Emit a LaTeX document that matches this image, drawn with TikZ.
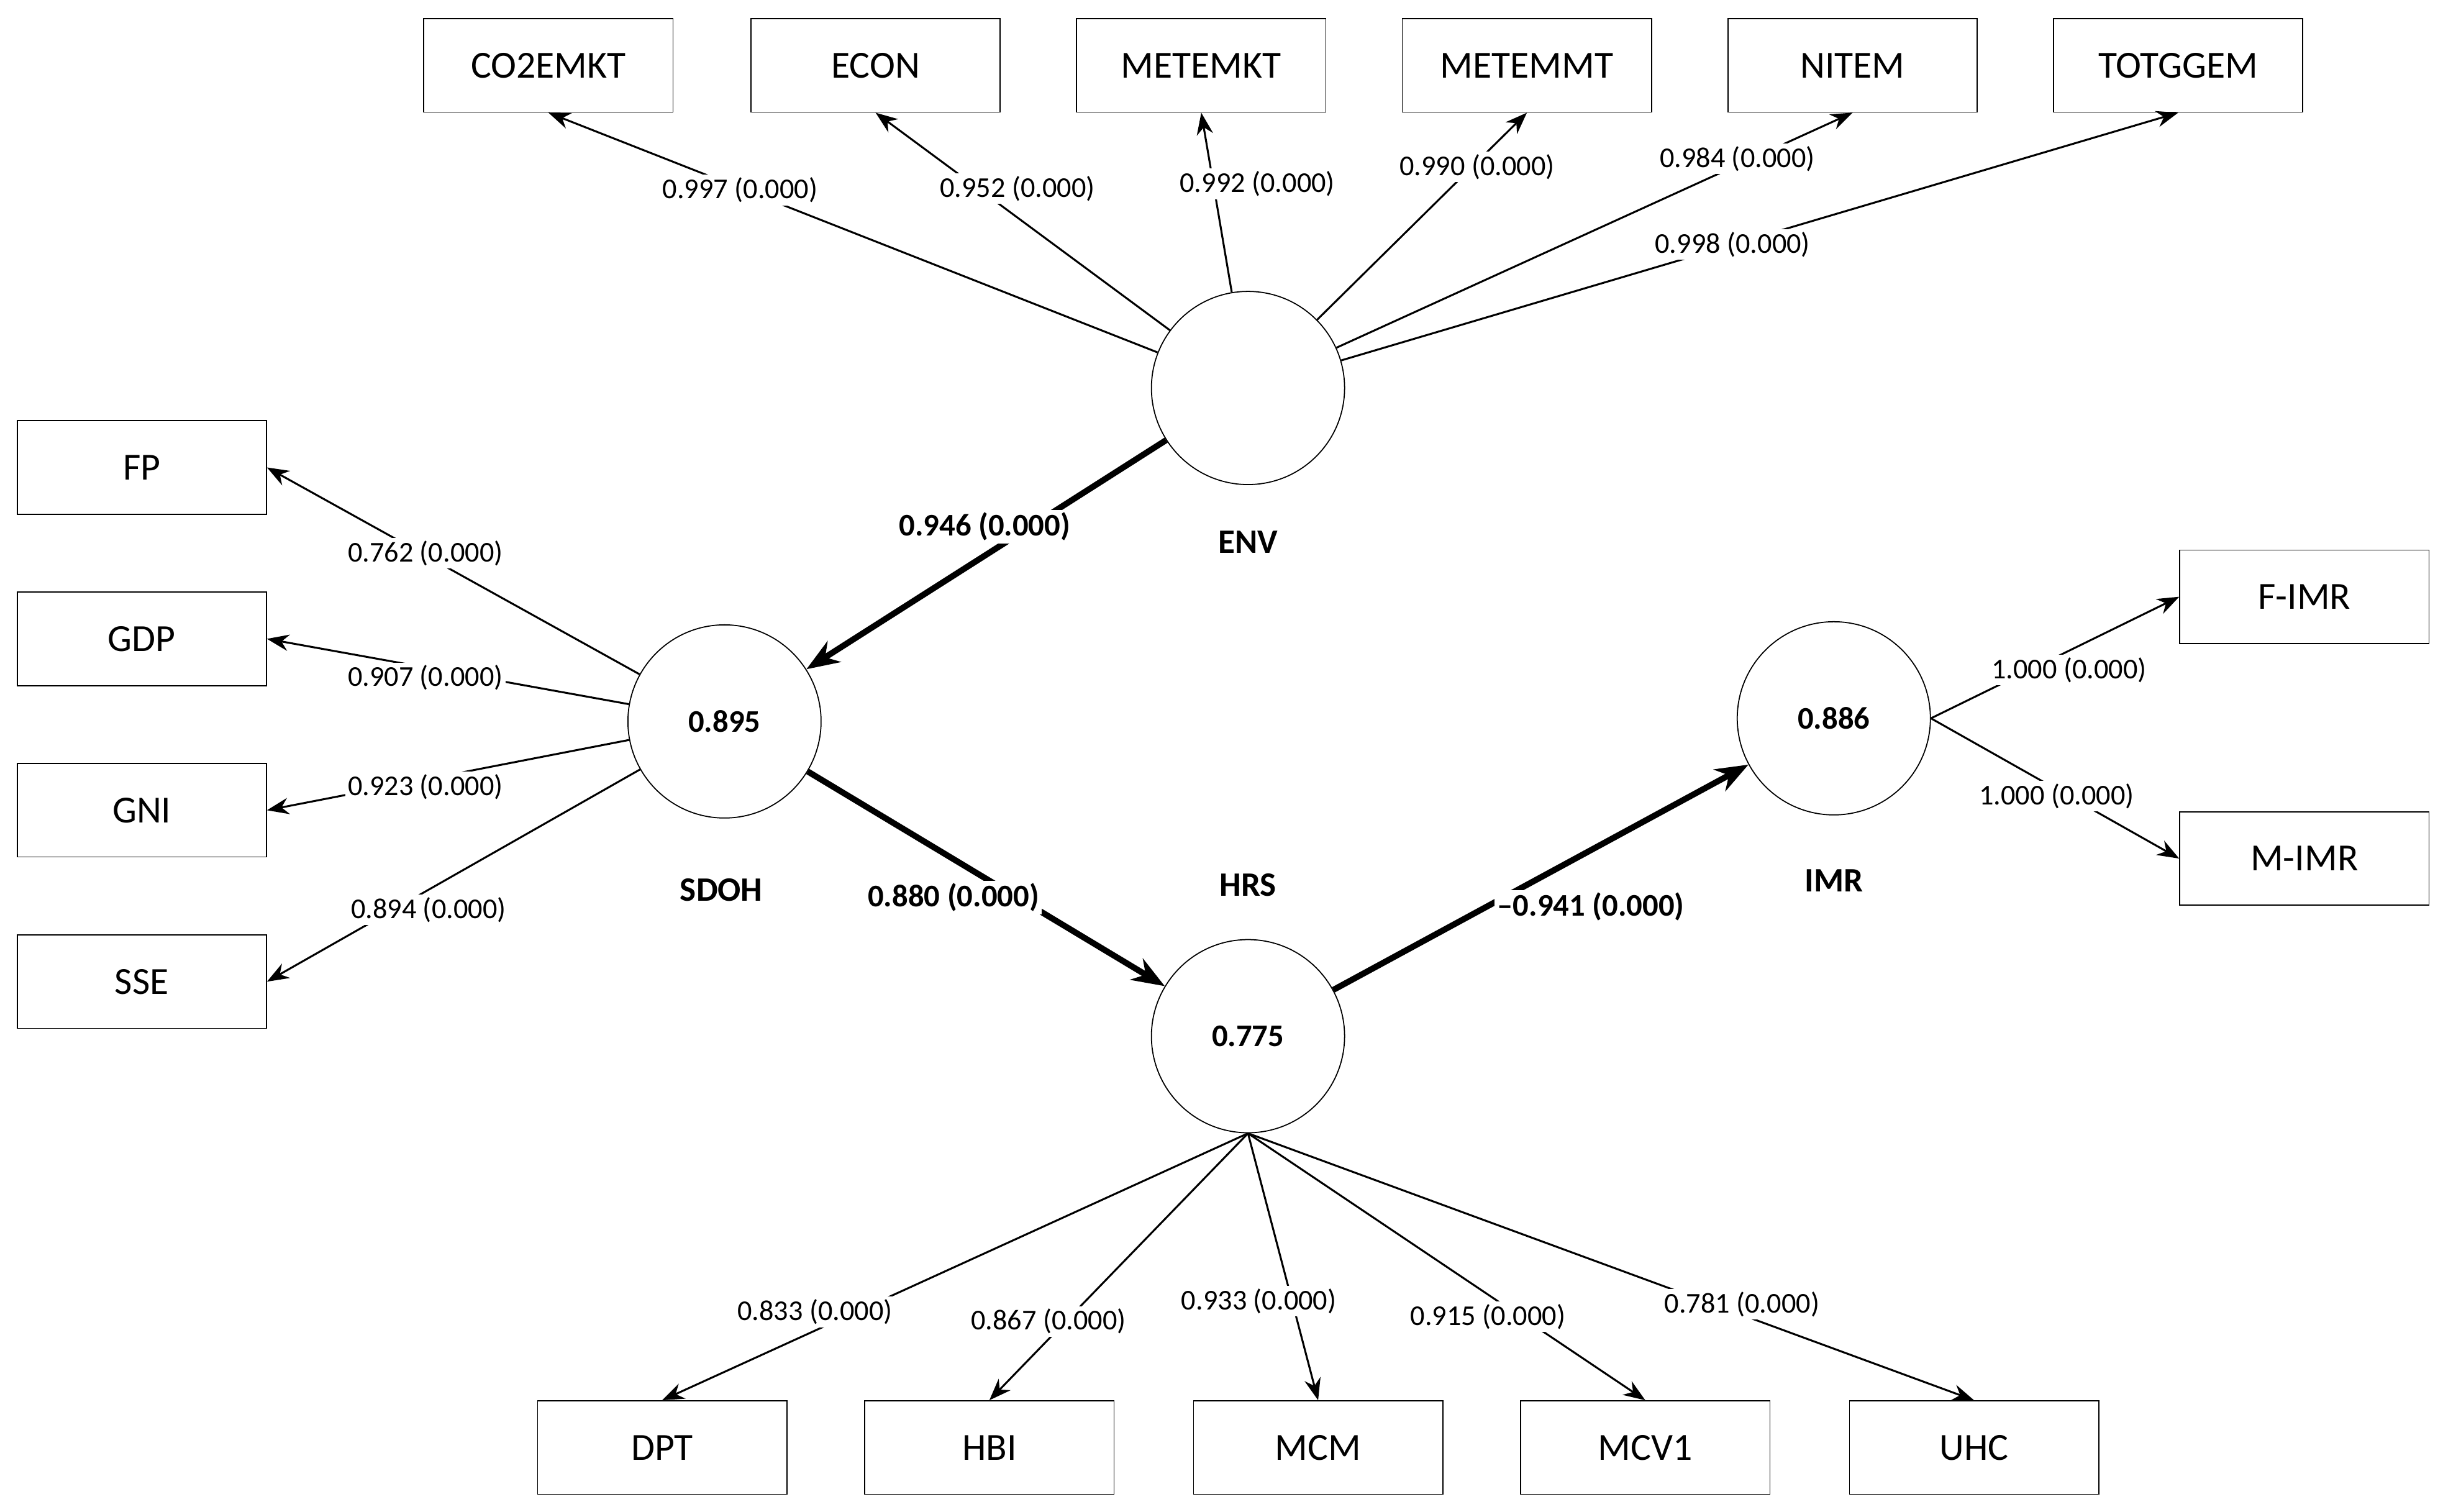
\documentclass[tikz,border=0pt]{standalone}
\usepackage{fontspec}
\setmainfont{Carlito}
\usetikzlibrary{arrows.meta}
\begin{document}
\begin{tikzpicture}[x=0.02cm,y=-0.02cm,
  ind/.style={draw,minimum width=3.2cm,minimum height=1.2cm,font=\fontsize{14}{16}\selectfont,inner sep=0},
  lat/.style={draw,circle,minimum size=2.48cm,inner sep=0,font=\bfseries\fontsize{11.5}{13}\selectfont},
  lab/.style={fill=white,inner sep=1pt,font=\fontsize{10.5}{12}\selectfont},
  blab/.style={fill=white,inner sep=1pt,font=\bfseries\fontsize{11.5}{13}\selectfont},
  lvname/.style={font=\bfseries\fontsize{12.5}{14}\selectfont},
  load/.style={-{Stealth[length=8pt,width=6pt]},line width=0.7pt},
  spath/.style={-{Stealth[length=12pt,width=9pt]},line width=2.2pt}]
\useasboundingbox (0,0) rectangle (1568,970);
% indicators
\node[ind] (CO2EMKT) at (352,42) {CO2EMKT};
\node[ind] (ECON) at (562,42) {ECON};
\node[ind] (METEMKT) at (771,42) {METEMKT};
\node[ind] (METEMMT) at (980,42) {METEMMT};
\node[ind] (NITEM) at (1189,42) {NITEM};
\node[ind] (TOTGGEM) at (1398,42) {TOTGGEM};
\node[ind] (FP) at (91,300) {FP};
\node[ind] (GDP) at (91,410) {GDP};
\node[ind] (GNI) at (91,520) {GNI};
\node[ind] (SSE) at (91,630) {SSE};
\node[ind] (FIMR) at (1479,383) {F-IMR};
\node[ind] (MIMR) at (1479,551) {M-IMR};
\node[ind] (DPT) at (425,929) {DPT};
\node[ind] (HBI) at (635,929) {HBI};
\node[ind] (MCM) at (846,929) {MCM};
\node[ind] (MCV1) at (1056,929) {MCV1};
\node[ind] (UHC) at (1267,929) {UHC};
% latent
\node[lat] (ENV) at (801,249) {};
\node[lat] (SDOH) at (465,463) {0.895};
\node[lat] (HRS) at (801,665) {0.775};
\node[lat] (IMR) at (1177,461) {0.886};
\node[lvname] (lENV) at (801,348) {ENV};
\node[lvname] (lSDOH) at (463,571) {SDOH};
\node[lvname] (lHRS) at (801,568) {HRS};
\node[lvname] (lIMR) at (1177,565) {IMR};
% ENV loadings
\draw[load] (ENV) -- (CO2EMKT.south);
\draw[load] (ENV) -- (ECON.south);
\draw[load] (ENV) -- (METEMKT.south);
\draw[load] (ENV) -- (METEMMT.south);
\draw[load] (ENV) -- (NITEM.south);
\draw[load] (ENV) -- (TOTGGEM.south);
\node[lab] (a1) at (475,122) {0.997 (0.000)};
\node[lab] (a2) at (653,121) {0.952 (0.000)};
\node[lab] (a3) at (807,118) {0.992 (0.000)};
\node[lab] (a4) at (948,107) {0.990 (0.000)};
\node[lab] (a5) at (1115,102) {0.984 (0.000)};
\node[lab] (a6) at (1112,157) {0.998 (0.000)};
% SDOH loadings
\draw[load] (SDOH) -- (FP.east);
\draw[load] (SDOH) -- (GDP.east);
\draw[load] (SDOH) -- (GNI.east);
\draw[load] (SDOH) -- (SSE.east);
\node[lab] (b1) at (273,355) {0.762 (0.000)};
\node[lab] (b2) at (273,435) {0.907 (0.000)};
\node[lab] (b3) at (273,505) {0.923 (0.000)};
\node[lab] (b4) at (275,584) {0.894 (0.000)};
% IMR loadings
\draw[load] (IMR.east) -- (FIMR.west);
\draw[load] (IMR.east) -- (MIMR.west);
\node[lab] (c1) at (1328,430) {1.000 (0.000)};
\node[lab] (c2) at (1320,511) {1.000 (0.000)};
% HRS loadings
\draw[load] (HRS.south) -- (DPT.north);
\draw[load] (HRS.south) -- (HBI.north);
\draw[load] (HRS.south) -- (MCM.north);
\draw[load] (HRS.south) -- (MCV1.north);
\draw[load] (HRS.south) -- (UHC.north);
\node[lab] (d1) at (523,842) {0.833 (0.000)};
\node[lab] (d2) at (673,848) {0.867 (0.000)};
\node[lab] (d3) at (808,835) {0.933 (0.000)};
\node[lab] (d4) at (955,845) {0.915 (0.000)};
\node[lab] (d5) at (1118,837) {0.781 (0.000)};
% structural paths
\draw[spath] (ENV) -- (SDOH);
\draw[spath] (SDOH) -- (HRS);
\draw[spath] (HRS) -- (IMR);
\node[blab] (p1) at (632,338) {0.946 (0.000)};
\node[blab] (p2) at (612,576) {0.880 (0.000)};
\node[blab] (p3) at (1021,582) {–0.941 (0.000)};
\end{tikzpicture}
\end{document}
